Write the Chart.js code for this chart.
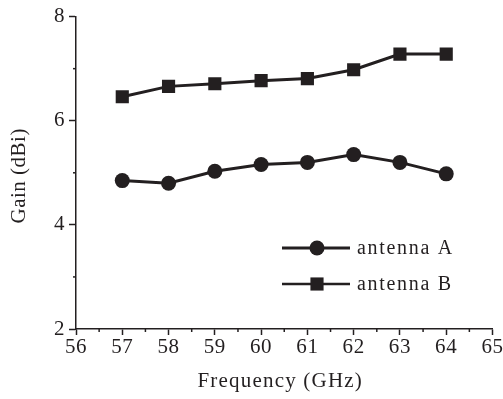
<!DOCTYPE html>
<html><head><meta charset="utf-8">
<script src="https://cdn.jsdelivr.net/npm/chart.js@4.4.1/dist/chart.umd.min.js"></script>
<style>html,body{margin:0;padding:0;background:#fff}#wrap{width:503px;height:399px}</style>
</head><body><div id="wrap"><canvas id="c" width="503" height="399"></canvas></div>
<script>
const frequencies = [57, 58, 59, 60, 61, 62, 63, 64];
const antennaA = [4.85, 4.80, 5.03, 5.16, 5.20, 5.35, 5.20, 4.98];
const antennaB = [6.46, 6.66, 6.71, 6.77, 6.81, 6.98, 7.28, 7.28];
const xTicks = [56, 57, 58, 59, 60, 61, 62, 63, 64, 65];
const yTicks = [2, 4, 6, 8];
const seriesNames = ['antenna A', 'antenna B'];
const xTitle = 'Frequency (GHz)';
const yTitle = 'Gain (dBi)';

const ink = '#231f20';
const serif = "'Liberation Serif', 'Times New Roman', serif";

const spacing = {
  id: 'spacing',
  beforeDraw(chart) { chart.ctx.letterSpacing = '0.6px'; },
  afterDraw(chart) { chart.ctx.letterSpacing = '0px'; }
};

const extras = {
  id: 'extras',
  afterDraw(chart) {
    const ctx = chart.ctx;
    const xs = chart.scales.x, ys = chart.scales.y;
    ctx.save();
    ctx.strokeStyle = ink; ctx.lineWidth = 1.5;
    for (let v = 56.5; v < 65; v += 1) {
      const p = xs.getPixelForValue(v);
      ctx.beginPath(); ctx.moveTo(p, xs.top); ctx.lineTo(p, xs.top + 3); ctx.stroke();
    }
    for (let v = 3; v < 8; v += 2) {
      const p = ys.getPixelForValue(v);
      ctx.beginPath(); ctx.moveTo(ys.right, p); ctx.lineTo(ys.right - 3, p); ctx.stroke();
    }
    // axis titles
    ctx.fillStyle = ink;
    ctx.textAlign = 'center'; ctx.textBaseline = 'middle';
    ctx.font = "21px " + serif;
    ctx.letterSpacing = '1.2px';
    ctx.fillText(xTitle, (xs.left + xs.right) / 2 - 4, 381);
    ctx.save();
    ctx.translate(19, (ys.top + ys.bottom) / 2 + 3);
    ctx.rotate(-Math.PI / 2);
    ctx.letterSpacing = '0.5px';
    ctx.fillText(yTitle, 0, 0);
    ctx.restore();
    // legend
    const rows = [248, 284];
    chart.data.datasets.forEach((ds, i) => {
      const y = rows[i];
      ctx.strokeStyle = ink; ctx.lineWidth = i === 0 ? 3 : 2.5;
      ctx.beginPath(); ctx.moveTo(282, y); ctx.lineTo(350, y); ctx.stroke();
      ctx.fillStyle = ink;
      Chart.helpers.drawPoint(ctx, {pointStyle: ds.pointStyle, rotation: 0, borderWidth: 0, radius: ds.pointRadius}, 317, y);
      ctx.fillStyle = ink;
      ctx.font = "20px " + serif;
      ctx.letterSpacing = '1.7px';
      ctx.textAlign = 'left';
      ctx.textBaseline = 'middle';
      ctx.fillText(ds.label, 357, y + 1);
    });
    ctx.restore();
  }
};

new Chart(document.getElementById('c'), {
  type: 'line',
  data: {
    datasets: [
      { label: seriesNames[0], data: frequencies.map((f, i) => ({x: f, y: antennaA[i]})),
        borderColor: ink, backgroundColor: ink, borderWidth: 3, pointStyle: 'circle',
        pointRadius: 7.5, pointBorderWidth: 0, pointBackgroundColor: ink, tension: 0 },
      { label: seriesNames[1], data: frequencies.map((f, i) => ({x: f, y: antennaB[i]})),
        borderColor: ink, backgroundColor: ink, borderWidth: 3, pointStyle: 'rect',
        pointRadius: 9.3, pointBorderWidth: 0, pointBackgroundColor: ink, tension: 0 }
    ]
  },
  options: {
    responsive: false, animation: false,
    layout: { padding: { top: 16, right: 8, left: 0, bottom: 0 } },
    plugins: { legend: { display: false }, tooltip: { enabled: false } },
    scales: {
      x: {
        type: 'linear', min: 56, max: 65,
        afterBuildTicks: s => { s.ticks = xTicks.map(v => ({value: v})); },
        ticks: { color: ink, font: { family: serif, size: 21 }, padding: 0, maxRotation: 0, autoSkip: false },
        grid: { drawOnChartArea: false, tickLength: 6, tickWidth: 1.5, tickColor: ink },
        border: { color: ink, width: 1.5 },
        afterFit: s => { s.height = 70; }
      },
      y: {
        min: 2, max: 8,
        afterBuildTicks: s => { s.ticks = yTicks.map(v => ({value: v})); },
        ticks: { color: ink, font: { family: serif, size: 21 }, padding: 4 },
        grid: { drawOnChartArea: false, tickLength: 7, tickWidth: 1.5, tickColor: ink },
        border: { color: ink, width: 1.5 },
        afterFit: s => { s.width = 76; }
      }
    }
  },
  plugins: [spacing, extras]
});
</script>
</body></html>
